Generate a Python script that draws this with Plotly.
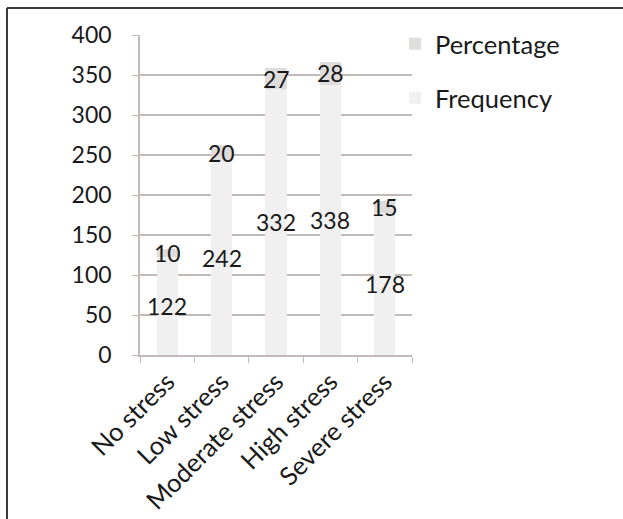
import plotly.graph_objects as go

categories = ["No stress", "Low stress", "Moderate stress", "High stress", "Severe stress"]
frequency = [122, 242, 332, 338, 178]
percentage = [10, 20, 27, 28, 15]
y_ticks = [0, 50, 100, 150, 200, 250, 300, 350, 400]

FONT = "Lato"
TXT = "#1a1a1a"
GRID = "#c2bab8"
FS = 23
FS_TXT = 25.5

fig = go.Figure()
fig.add_trace(go.Bar(x=categories, y=frequency, name="Frequency",
                     marker=dict(color="#f1f0f0", line=dict(width=0)),
                     width=0.39, legendgroup="f", legendrank=2, hoverinfo="x+y"))
fig.add_trace(go.Bar(x=categories, y=percentage, name="Percentage",
                     marker=dict(color="#dfdcdc", line=dict(width=0)),
                     width=0.39, legendgroup="p", legendrank=1, hoverinfo="x+y"))

annotations = []
for c, f, p in zip(categories, frequency, percentage):
    annotations.append(dict(x=c, y=f / 2, xref="x", yref="y", text=str(f),
                            showarrow=False, font=dict(family=FONT, size=FS, color=TXT)))
    annotations.append(dict(x=c, y=f + p / 2, xref="x", yref="y", text=str(p),
                            showarrow=False, font=dict(family=FONT, size=FS, color=TXT)))

fig.update_layout(
    barmode="stack",
    width=623, height=519,
    margin=dict(l=140, r=211, t=35, b=164, autoexpand=False),
    paper_bgcolor="white", plot_bgcolor="white",
    font=dict(family=FONT, size=FS, color=TXT),
    showlegend=True,
    legend=dict(x=0.9375, y=1.045, xanchor="left", yanchor="top",
                traceorder="grouped", tracegroupgap=18,
                font=dict(family=FONT, size=FS_TXT, color=TXT),
                itemwidth=30, bgcolor="rgba(0,0,0,0)"),
    annotations=annotations,
    xaxis=dict(showline=True, linecolor=GRID, linewidth=1.5, automargin=False,
               ticks="outside", tickson="boundaries", ticklen=6, tickcolor=GRID,
               tickangle=-45, showgrid=False,
               tickfont=dict(family=FONT, size=FS_TXT, color=TXT)),
    yaxis=dict(range=[0, 400], tickvals=y_ticks, showline=True, linecolor=GRID,
               linewidth=1.5, ticks="outside", ticklen=6, tickcolor=GRID,
               showgrid=True, gridcolor=GRID, gridwidth=1.5, zeroline=False,
               ticklabelstandoff=16, automargin=False,
               tickfont=dict(family=FONT, size=FS, color=TXT)),
    shapes=[
        dict(type="line", xref="paper", yref="paper", x0=-0.489, x1=1.9, y0=1.084, y1=1.084,
             line=dict(color="#3a3a3a", width=2)),
        dict(type="line", xref="paper", yref="paper", x0=-0.489, x1=-0.489, y0=1.084, y1=-0.6,
             line=dict(color="#3a3a3a", width=2)),
    ],
)

fig.write_html("out.html", config={"displayModeBar": False},
               post_script="document.body.style.margin='0px';")
